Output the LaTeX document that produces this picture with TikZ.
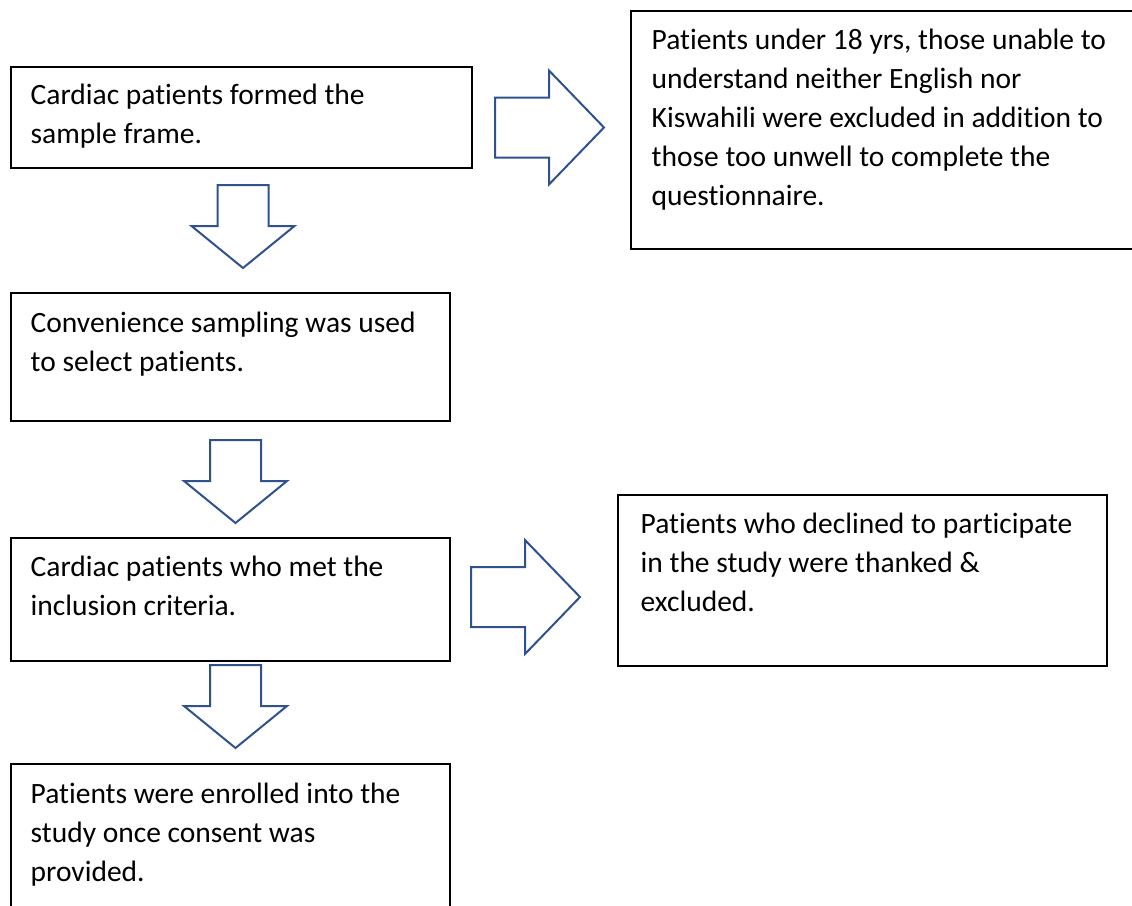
\documentclass[tikz,border=0pt]{standalone}
\usepackage{fontspec}
\setmainfont{Carlito}[RawFeature={-liga;-clig;-calt}]
\usetikzlibrary{calc}
\definecolor{arrowblue}{RGB}{47,82,143}

\begin{document}
\begin{tikzpicture}[
    x=1pt, y=-1pt,
    box/.style={rectangle, draw=black, line width=1.6pt, fill=white,
        anchor=north west, inner sep=0pt},
    % base west = baseline of the last line
    txt/.style={anchor=base west, align=left, inner sep=0pt,
        font={\fontsize{29.5}{39}\selectfont}},
    blockarrow/.style={draw=arrowblue, line width=2pt, fill=white, line join=miter},
    pics/downblock/.style={code={
        \draw[blockarrow] (-25.5,0) -- (25.5,0) -- (25.5,41) -- (51.5,41)
            -- (0,83) -- (-51.5,41) -- (-25.5,41) -- cycle;
    }},
    pics/rightblock/.style={code={
        \draw[blockarrow] (0,-30) -- (54,-30) -- (54,-57) -- (109,0)
            -- (54,57) -- (54,30) -- (0,30) -- cycle;
    }}
]
\useasboundingbox (0,0) rectangle (1132,905);

% Left column
\node[box, minimum width=461pt, minimum height=101pt] (frame) at (10,66) {};
\node[txt] (frametxt) at ($(frame.north west)+(20.5,38.5+39)$)
    {Cardiac patients formed the\\sample frame.};

\node[box, minimum width=439pt, minimum height=128pt] (select) at (10,292) {};
\node[txt] (selecttxt) at ($(select.north west)+(20.5,40+39)$)
    {Convenience sampling was used\\to select patients.};

\node[box, minimum width=439pt, minimum height=123pt] (met) at (10,537) {};
\node[txt] (mettxt) at ($(met.north west)+(20.5,39+39)$)
    {Cardiac patients who met the\\inclusion criteria.};

\node[box, minimum width=439pt, minimum height=160pt] (enrol) at (10,763) {};
\node[txt] (enroltxt) at ($(enrol.north west)+(20.5,40+78)$)
    {Patients were enrolled into the\\study once consent was\\provided.};

% Exclusions
\node[box, minimum width=520pt, minimum height=238pt] (excl) at (630,10) {};
\node[txt] (excltxt) at ($(excl.north west)+(21.5,39+156)$)
    {Patients under 18 yrs, those unable to\\understand neither English nor\\Kiswahili were excluded in addition to\\those too unwell to complete the\\questionnaire.};

\node[box, minimum width=489pt, minimum height=171pt] (declined) at (617,494) {};
\node[txt] (declinedtxt) at ($(declined.north west)+(23.5,39+78)$)
    {Patients who declined to participate\\in the study were thanked \&\\excluded.};

% Block arrows
\pic (downone) at (243,185) {downblock};
\pic (downtwo) at (235.5,440) {downblock};
\pic (downthree) at (235.5,665) {downblock};
\pic (rightone) at (495,127.5) {rightblock};
\pic (righttwo) at (471,597) {rightblock};

\end{tikzpicture}
\end{document}
